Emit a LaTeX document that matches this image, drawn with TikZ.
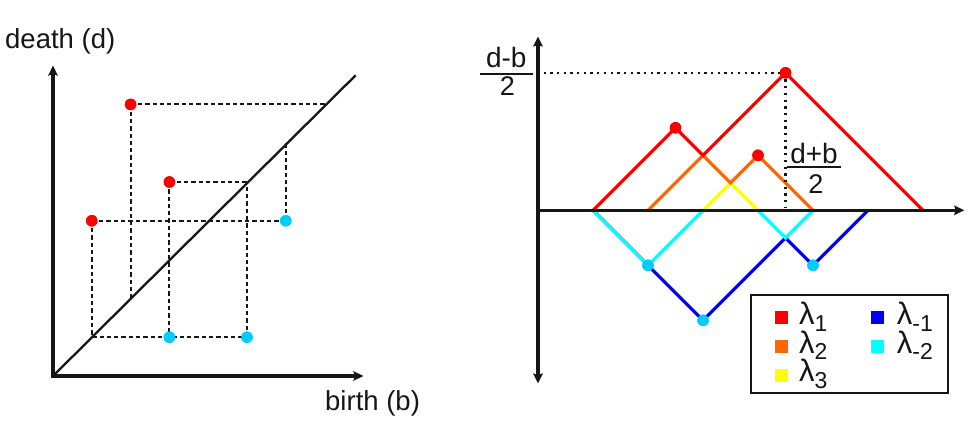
\documentclass[tikz,border=0pt]{standalone}
\usepackage{fontspec}
\setmainfont{Liberation Sans}
\usetikzlibrary{arrows.meta}
\definecolor{dotred}{RGB}{255,0,0}
\definecolor{dotcyan}{RGB}{0,204,255}
\definecolor{lred}{RGB}{255,0,0}
\definecolor{lorange}{RGB}{255,102,0}
\definecolor{lyellow}{RGB}{255,255,0}
\definecolor{lblue}{RGB}{0,0,240}
\definecolor{lcyan}{RGB}{0,255,255}
\definecolor{ink}{RGB}{22,22,22}
\newcommand\lamsub[1]{λ\raisebox{-6.7pt}{\fontsize{23}{23}\selectfont #1}}
\begin{document}
\begin{tikzpicture}[x=1pt,y=-1pt,
  axisline/.style={line width=3.1pt, draw=ink},
  diagline/.style={line width=2.3pt, draw=ink},
  dashline/.style={line width=2.1pt, draw=ink, dash pattern=on 4.3pt off 3pt},
  dotline/.style={line width=2.3pt, draw=ink, dash pattern=on 2.3pt off 4.4pt},
  rdot/.style={circle, fill=dotred, minimum size=11.5pt, inner sep=0pt},
  cdot/.style={circle, fill=dotcyan, minimum size=11.5pt, inner sep=0pt},
  land/.style={line width=3.2pt, line join=miter},
  lab/.style={font=\fontsize{27.5}{32}\selectfont, text=ink, inner sep=0pt},
  fracnum/.style={font=\fontsize{28}{32}\selectfont, text=ink, inner xsep=0pt, minimum width=#1, anchor=base},
  fracden/.style={font=\fontsize{27}{32}\selectfont, text=ink, inner sep=0pt, anchor=base},
  fracbar/.style={line width=1.8pt, draw=ink},
  legbox/.style={draw=ink, line width=2.2pt, inner sep=0pt, minimum width=197.6pt, minimum height=98.3pt},
  sq/.style={minimum size=13pt, inner sep=0pt},
  leglab/.style={font=\fontsize{31}{34}\selectfont, text=ink, inner sep=0pt, anchor=base west}
]
\useasboundingbox (0,0) rectangle (970,427);

% ---------------- left: persistence diagram ----------------
\begin{scope}[shift={(53pt,-376pt)}, x=38.8pt, y=38.8pt]
  \coordinate (O) at (0,0);
  \coordinate (xa) at (8,0);
  \coordinate (ya) at (0,8);
  \coordinate (dend) at (7.8,7.75);
  \coordinate (d7) at (7,7);
  \coordinate (d2) at (2,2);
  \coordinate (d5) at (5,5);
  \coordinate (d6) at (6,6);
  \coordinate (c11) at (1,1);
  \node[rdot] (p1) at (1,4) {};
  \node[rdot] (p2) at (3,5) {};
  \node[rdot] (p3) at (2,7) {};
  \node[cdot] (q1) at (6,4) {};
  \node[cdot] (q2) at (3,1) {};
  \node[cdot] (q3) at (5,1) {};
  \draw[dashline] (p3.center) -- (d7);
  \draw[dashline] (p3.center) -- (d2);
  \draw[dashline] (p2.center) -- (d5);
  \draw[dashline] (p2.center) -- (q2.center);
  \draw[dashline] (q3.center) -- (d5);
  \draw[dashline] (p1.center) -- (q1.center);
  \draw[dashline] (p1.center) -- (c11) -- (q3.center);
  \draw[dashline] (q1.center) -- (d6);
  \draw[diagline] (O) -- (dend);
  \draw[axisline, {Stealth[length=10pt,width=9.5pt,inset=1.5pt]}-{Stealth[length=10pt,width=9.5pt,inset=1.5pt]}] (ya) -- (O) -- (xa);
  \node[rdot] at (p1) {};
  \node[rdot] at (p2) {};
  \node[rdot] at (p3) {};
  \node[cdot] at (q1) {};
  \node[cdot] at (q2) {};
  \node[cdot] at (q3) {};
\end{scope}
\node[lab, anchor=base west] (death) at (5,48.3) {death (d)};
\node[lab, anchor=base west] (birth) at (325,410.7) {birth (b)};

% ---------------- right: persistence landscape ----------------
\begin{scope}[shift={(538pt,-210.3pt)}, x=55pt, y=55pt]
  \coordinate (rO) at (0,0);
  \coordinate (rxa) at (7.75,0);
  \coordinate (ryt) at (0,3.16);
  \coordinate (ryb) at (0,-3.15);
  \coordinate (a1) at (1,0);
  \coordinate (a2) at (2,0);
  \coordinate (a3) at (3,0);
  \coordinate (a4) at (4,0);
  \coordinate (a5) at (5,0);
  \coordinate (a6) at (6,0);
  \coordinate (a7) at (7,0);
  \coordinate (x31) at (3,1);
  \coordinate (x35) at (3.5,0.5);
  \coordinate (x45) at (4.5,-0.5);
  \coordinate (a45) at (4.5,0.06);
  \coordinate (yl) at (0.1,2.5);
  \node[rdot] (m1) at (2.5,1.5) {};
  \node[rdot] (m2) at (4,1) {};
  \node[rdot] (m3) at (4.5,2.5) {};
  \node[cdot] (n1) at (2,-1) {};
  \node[cdot] (n2) at (5,-1) {};
  \node[cdot] (n3) at (3,-2) {};
  % lambda_{-1}
  \draw[land, lblue] (a1) -- (n3.center) -- (x45) -- (n2.center) -- (a6);
  % lambda_{-2}
  \draw[land, lcyan, xshift=1.4pt, yshift=1.4pt] (a1) -- (n1.center) -- (a3);
  \draw[land, lcyan] (a4) -- (x45) -- (a5);
  % lambda_3
  \draw[land, lyellow] (a3) -- (x35) -- (a4);
  % lambda_2
  \draw[land, lorange] (a2) -- (x31) -- (x35) -- (m2.center) -- (a5);
  % lambda_1
  \draw[land, lred] (a1) -- (m1.center) -- (x31) -- (m3.center) -- (a7);
  % dotted guides
  \draw[dotline] (yl) -- (m3.center);
  \draw[dotline] (m3.center) -- (a45);
  % axes
  \draw[axisline, -{Stealth[length=10pt,width=9.5pt,inset=1.5pt]}] (rO) -- (rxa);
  \draw[axisline, {Stealth[length=10pt,width=9.5pt,inset=1.5pt]}-{Stealth[length=10pt,width=9.5pt,inset=1.5pt]}] (ryt) -- (ryb);
  \node[rdot] at (m1) {};
  \node[rdot] at (m2) {};
  \node[rdot] at (m3) {};
  \node[cdot] at (n1) {};
  \node[cdot] at (n2) {};
  \node[cdot] at (n3) {};
\end{scope}

% fractions
\node[fracnum=52.7pt, inner ysep=5.4pt] (dbn) at (506.3,68) {d-b};
\draw[fracbar] (dbn.south west) -- (dbn.south east);
\node[fracden] (dbd) at (507.5,96) {2};
\node[fracnum=53.4pt, inner ysep=3.6pt] (dpn) at (814,163.3) {d+b};
\draw[fracbar] (dpn.south west) -- (dpn.south east);
\node[fracden] (dpd) at (816,193.5) {2};

% legend
\node[legbox] (legend) at (849.5,344.15) {};
\node[sq, fill=lred] (s1) at (781,317.7) {};
\node[sq, fill=lorange] (s2) at (781,346.7) {};
\node[sq, fill=lyellow] (s3) at (781,376) {};
\node[sq, fill=lblue] (s4) at (877.3,317.7) {};
\node[sq, fill=lcyan] (s5) at (877.3,346.7) {};
\node[leglab] (t1) at (799,325) {\lamsub{1}};
\node[leglab] (t2) at (799,353.3) {\lamsub{2}};
\node[leglab] (t3) at (799,381.7) {\lamsub{3}};
\node[leglab] (t4) at (896.7,325) {\lamsub{-1}};
\node[leglab] (t5) at (896.7,353.3) {\lamsub{-2}};
\end{tikzpicture}
\end{document}
